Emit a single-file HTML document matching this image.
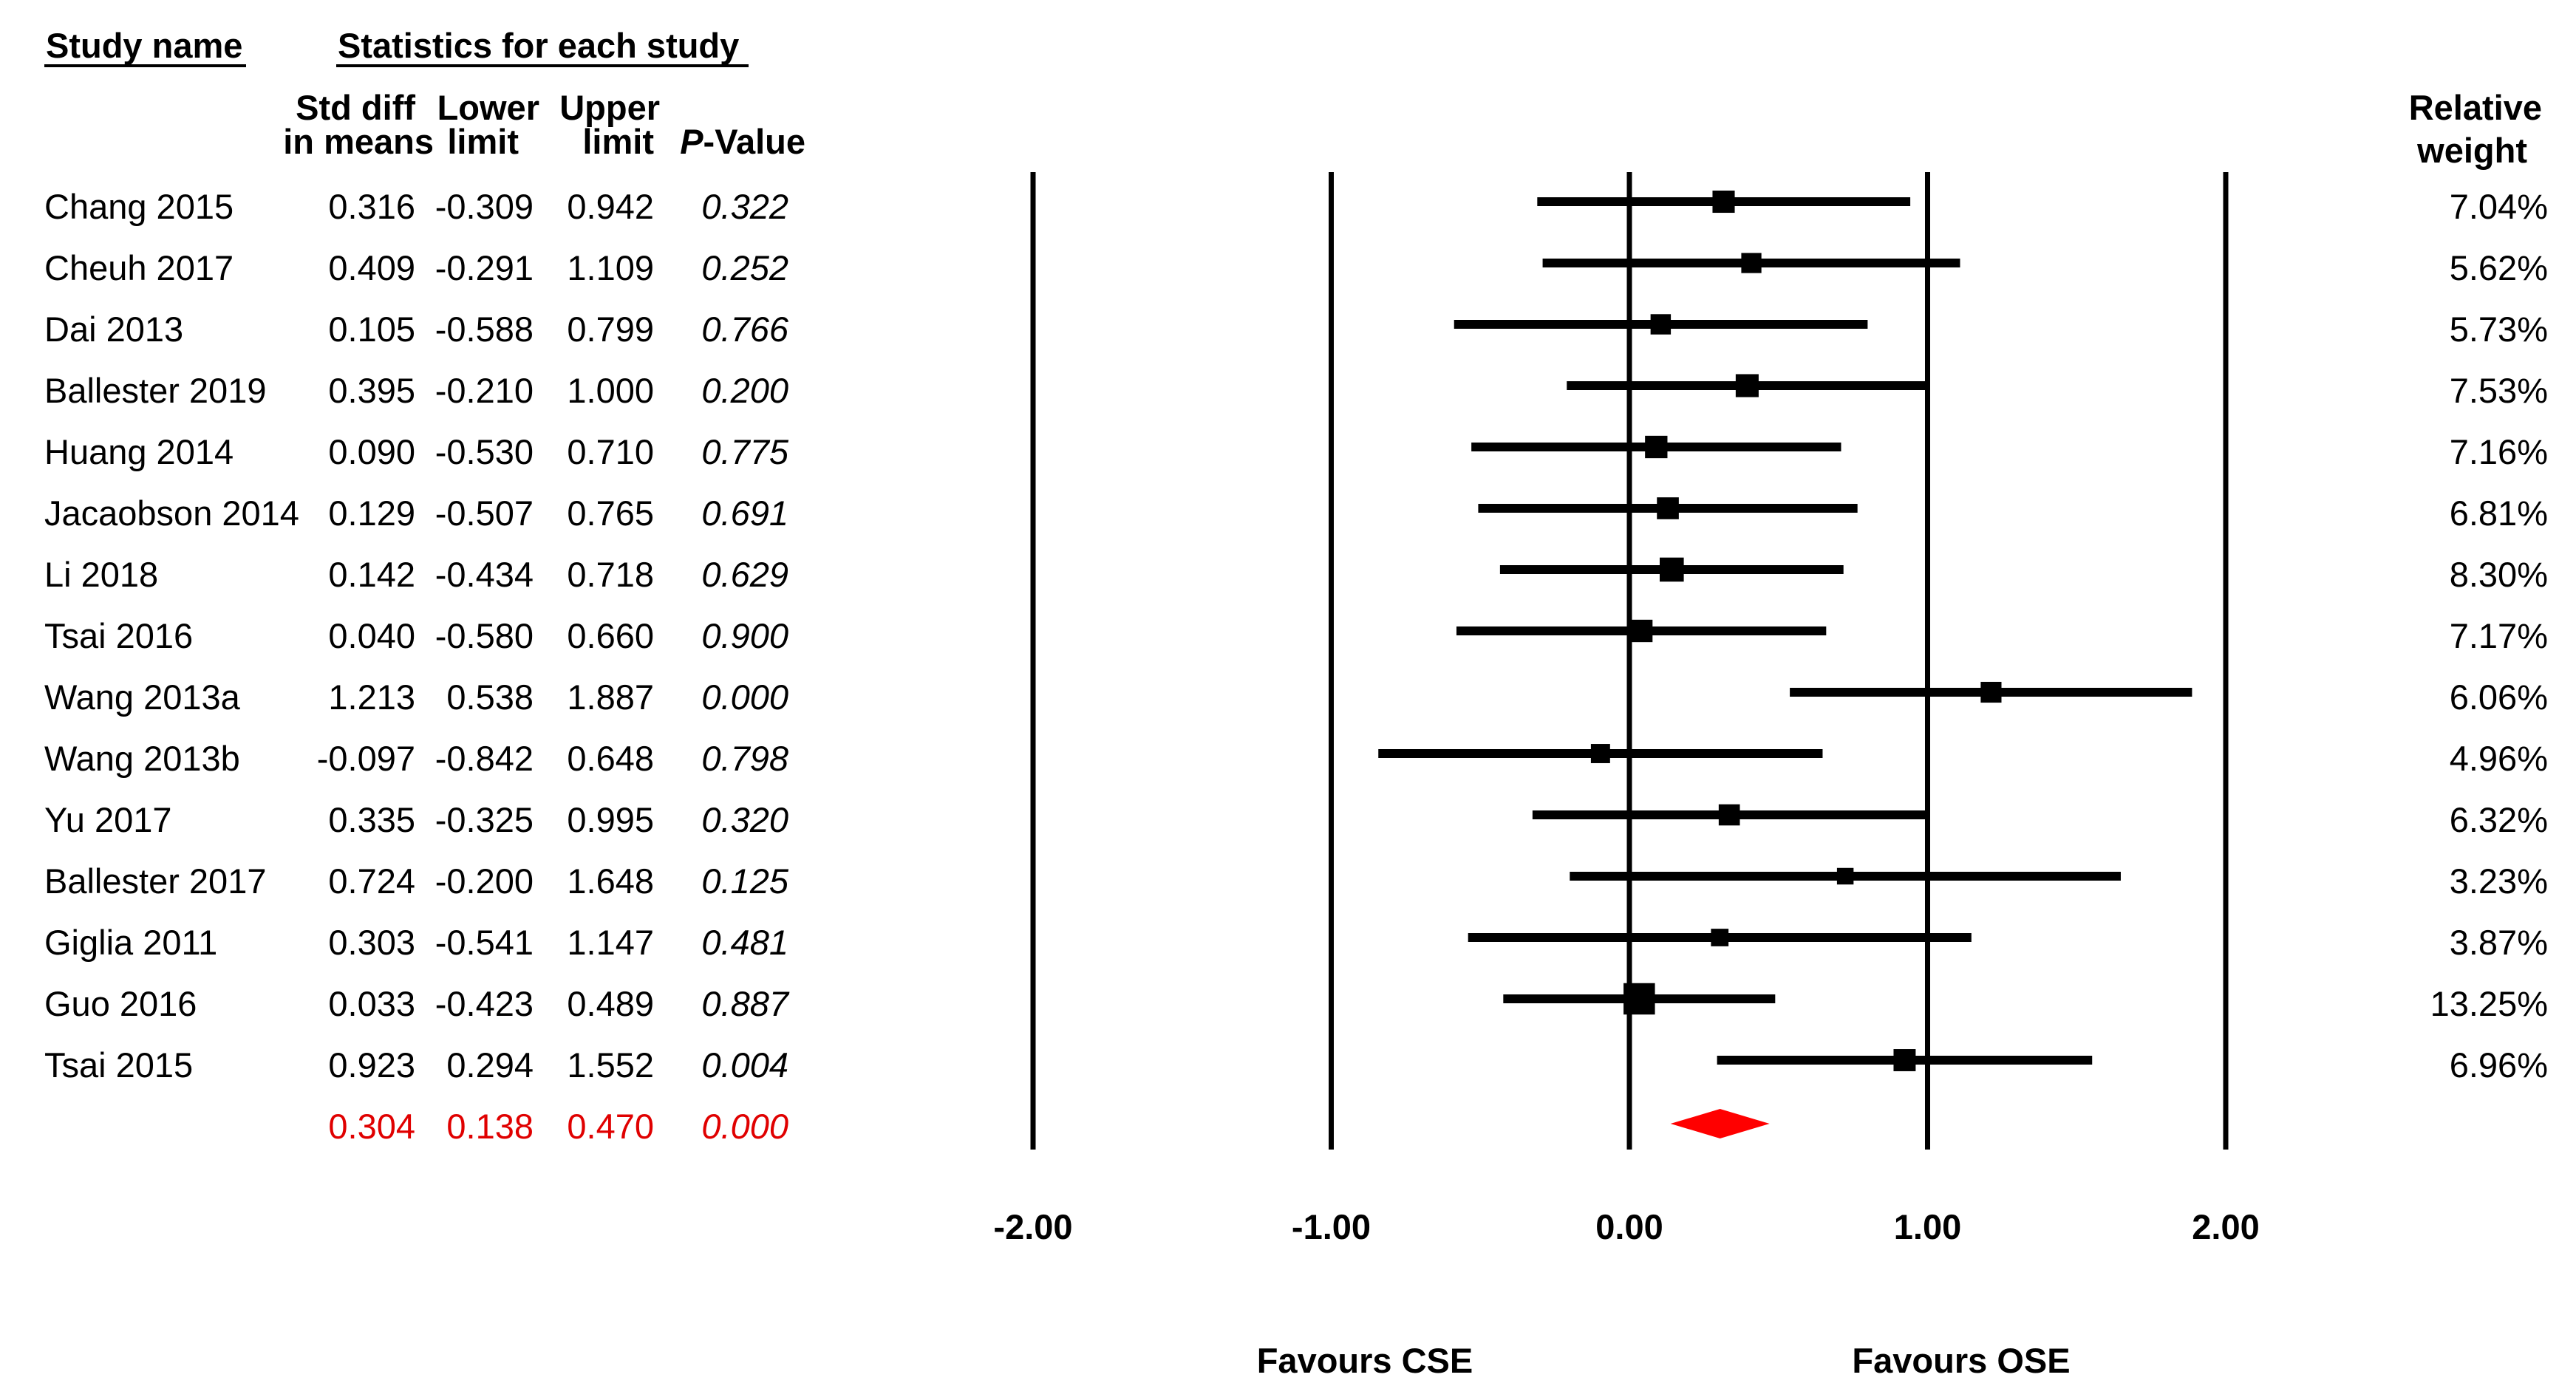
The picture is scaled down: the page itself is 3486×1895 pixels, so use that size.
<!DOCTYPE html>
<html><head><meta charset="utf-8"><style>
html,body{margin:0;padding:0;background:#fff}
svg{display:block}
text{font-family:"Liberation Sans",Arial,sans-serif;font-size:47px;fill:#000}
.h{font-weight:bold}
</style></head><body>
<svg id="c" width="3486" height="1895" viewBox="0 0 3486 1895">
<g>
<text class="h" x="62" y="78">Study name</text>
<line x1="60" y1="89" x2="333" y2="89" stroke="#000" stroke-width="4"/>
<text class="h" x="457" y="78">Statistics for each study</text>
<line x1="455" y1="89" x2="1013" y2="89" stroke="#000" stroke-width="4"/>
<text class="h" x="562" y="162" text-anchor="end">Std diff</text>
<text class="h" x="587" y="208" text-anchor="end">in means</text>
<text class="h" x="730" y="162" text-anchor="end">Lower</text>
<text class="h" x="702" y="208" text-anchor="end">limit</text>
<text class="h" x="893" y="162" text-anchor="end">Upper</text>
<text class="h" x="885" y="208" text-anchor="end">limit</text>
<text class="h" x="1090" y="208" text-anchor="end"><tspan font-style="italic">P</tspan>-Value</text>
<text class="h" x="3440" y="162" text-anchor="end">Relative</text>
<text class="h" x="3420" y="220" text-anchor="end">weight</text>
</g>
<g id="rows"></g>
<g id="plot"></g>
<text class="h" x="1847" y="1858" text-anchor="middle">Favours CSE</text>
<text class="h" x="2654" y="1858" text-anchor="middle">Favours OSE</text>
</svg>
<script>
const studies=["Chang 2015","Cheuh 2017","Dai 2013","Ballester 2019","Huang 2014","Jacaobson 2014","Li 2018","Tsai 2016","Wang 2013a","Wang 2013b","Yu 2017","Ballester 2017","Giglia 2011","Guo 2016","Tsai 2015"];
const estimates=[0.316,0.409,0.105,0.395,0.090,0.129,0.142,0.040,1.213,-0.097,0.335,0.724,0.303,0.033,0.923];
const lowers=[-0.309,-0.291,-0.588,-0.210,-0.530,-0.507,-0.434,-0.580,0.538,-0.842,-0.325,-0.200,-0.541,-0.423,0.294];
const uppers=[0.942,1.109,0.799,1.000,0.710,0.765,0.718,0.660,1.887,0.648,0.995,1.648,1.147,0.489,1.552];
const pvalues=["0.322","0.252","0.766","0.200","0.775","0.691","0.629","0.900","0.000","0.798","0.320","0.125","0.481","0.887","0.004"];
const weights=[7.04,5.62,5.73,7.53,7.16,6.81,8.30,7.17,6.06,4.96,6.32,3.23,3.87,13.25,6.96];
const pooled=[0.304,0.138,0.470];
const pooledP="0.000";
const ticks=[-2,-1,0,1,2];
const tickLabels=["-2.00","-1.00","0.00","1.00","2.00"];

const NS="http://www.w3.org/2000/svg";
const x=v=>2205+v*403.5;
const rowY=i=>280+i*83;
function mk(tag,attrs,parent,txt){const e=document.createElementNS(NS,tag);for(const k in attrs)e.setAttribute(k,attrs[k]);if(txt!==undefined)e.textContent=txt;parent.appendChild(e);return e;}
const rows=document.getElementById('rows'),plot=document.getElementById('plot');
function textRow(i,vals,color,italP){
  const y=rowY(i)+16;
  const cols=[[562,vals[0]],[722,vals[1]],[885,vals[2]]];
  cols.forEach((c,k)=>{const t=mk('text',{x:c[0],y:y,'text-anchor':'end',style:'fill:'+color},rows,c[1]);
    
    });
  const p=mk('text',{x:1067,y:y,'text-anchor':'end','font-style':'italic',style:'fill:'+color},rows,italP);
  
  
}
ticks.forEach((t,k)=>{
  const l=mk('line',{x1:x(t),x2:x(t),y1:233,y2:1556,stroke:'#000','stroke-width':7},plot);
  
  
  const tl=mk('text',{x:x(t),y:1677,'text-anchor':'middle','class':'h'},plot,tickLabels[k]);
  
  
});
studies.forEach((s,i)=>{
  const y=rowY(i);
  const n=mk('text',{x:60,y:y+16},rows,s);
  
  
  textRow(i,[estimates[i].toFixed(3),lowers[i].toFixed(3),uppers[i].toFixed(3)],'#000',pvalues[i]);
  const w=mk('text',{x:3448,y:y+16,'text-anchor':'end'},rows,weights[i].toFixed(2)+'%');
  
  
  const my=y-7;
  const ci=mk('line',{x1:x(lowers[i]),x2:x(uppers[i]),y1:my,y2:my,stroke:'#000','stroke-width':12},plot);
  
  
  const sz=16+weights[i]*2;
  const m=mk('rect',{x:x(estimates[i])-sz/2,y:my-sz/2,width:sz,height:sz,fill:'#000'},plot);
  
  
});
const pi=studies.length;
textRow(pi,[pooled[0].toFixed(3),pooled[1].toFixed(3),pooled[2].toFixed(3)],'#e00000',pooledP);
const py=rowY(pi)-4;
const d=mk('polygon',{points:`${x(pooled[1])},${py} ${x(pooled[0])},${py-20} ${x(pooled[2])},${py} ${x(pooled[0])},${py+20}`,fill:'#ff0000'},plot);


</script>
</body></html>
